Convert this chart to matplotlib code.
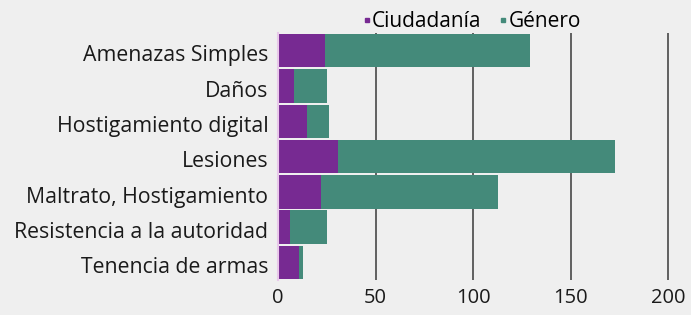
import matplotlib
matplotlib.use("Agg")
import matplotlib.pyplot as plt
from matplotlib.lines import Line2D
from matplotlib.transforms import ScaledTranslation

plt.rcParams['font.family'] = ['Open Sans', 'DejaVu Sans']

categories = ["Amenazas Simples", "Daños", "Hostigamiento digital", "Lesiones",
              "Maltrato, Hostigamiento", "Resistencia a la autoridad", "Tenencia de armas"]
ciudadania = [24, 8, 15, 31, 22, 6, 11]
genero = [105, 17, 11, 142, 91, 19, 2]
xticks = [0, 50, 100, 150, 200]
series_names = ["Ciudadanía", "Género"]

c_purple = "#772a92"
c_teal = "#448a7a"
bg = "#efefef"

fig = plt.figure(figsize=(6.91, 3.15), dpi=100, facecolor=bg)
ax = fig.add_axes([0.4023, 0.111, 0.59, 0.784], facecolor=bg)

y = list(range(len(categories)))
ax.barh(y, ciudadania, height=0.95, color=c_purple, zorder=3)
ax.barh(y, genero, left=ciudadania, height=0.95, color=c_teal, zorder=3)

ax.set_ylim(len(categories) - 0.5, -0.5)
ax.set_xlim(0, 209)
ax.set_yticks(y)
ax.set_yticklabels(categories, fontsize=15.3, color="#1a1a1a")
ax.set_xticks(xticks)
ax.set_xticklabels([str(v) for v in xticks], fontsize=14.5, color="#1a1a1a")
ax.tick_params(axis='y', length=0, pad=7)
ax.tick_params(axis='x', length=0, pad=6)

offset = ScaledTranslation(0, -2 / 72, fig.dpi_scale_trans)
for lab in ax.get_yticklabels():
    lab.set_transform(lab.get_transform() + offset)

for v in xticks[1:]:
    ax.axvline(v, color="#555555", linewidth=1.3, zorder=1)

for s in ['top', 'right', 'bottom']:
    ax.spines[s].set_visible(False)
ax.spines['left'].set_color("#e8c8ea")
ax.spines['left'].set_linewidth(1.5)
ax.spines['left'].set_zorder(4)

handles = [Line2D([], [], marker='s', linestyle='none', markersize=3.5, color=c_purple),
           Line2D([], [], marker='s', linestyle='none', markersize=3.5, color=c_teal)]
fig.legend(handles, series_names, loc='center', bbox_to_anchor=(0.682, 0.932),
           ncol=2, frameon=False, fontsize=15, handletextpad=0.0, columnspacing=0.8,
           handlelength=0.5, borderpad=0)

fig.savefig("out.png", dpi=100, facecolor=bg)
